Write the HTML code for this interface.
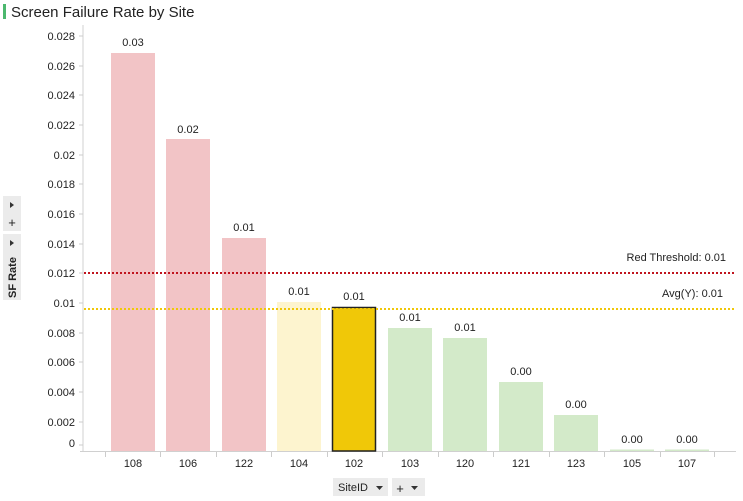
<!DOCTYPE html>
<html><head><style>
body{margin:0;background:#fff;}
svg{display:block;font-family:"Liberation Sans",Arial,sans-serif;}
</style></head><body>
<svg width="743" height="501" viewBox="0 0 743 501">
<rect x="3" y="4" width="3" height="15" fill="#4cb86e"/>
<text x="11" y="17" font-size="15" fill="#222">Screen Failure Rate by Site</text>
<!-- left panel -->
<rect x="3" y="196" width="18" height="35" fill="#ebebeb"/>
<path d="M10 202 L14 205 L10 208Z" fill="#333"/>
<text x="12" y="227" font-size="13" text-anchor="middle" fill="#222">+</text>
<rect x="3" y="234" width="18" height="66" fill="#ebebeb"/>
<path d="M10 240 L14 243 L10 246Z" fill="#333"/>
<text transform="translate(16,298) rotate(-90)" font-size="11" font-weight="bold" fill="#222">SF Rate</text>
<!-- axes -->
<line x1="83" y1="25" x2="83" y2="452" stroke="#d0d0d0"/>
<line x1="80" y1="451.5" x2="736" y2="451.5" stroke="#d0d0d0"/>
<g font-size="11" fill="#222" text-anchor="end">
<text x="75" y="40">0.028</text><line x1="79" y1="36" x2="83" y2="36" stroke="#ccc"/>
<text x="75" y="70">0.026</text><line x1="79" y1="66" x2="83" y2="66" stroke="#ccc"/>
<text x="75" y="99">0.024</text><line x1="79" y1="95" x2="83" y2="95" stroke="#ccc"/>
<text x="75" y="129">0.022</text><line x1="79" y1="125" x2="83" y2="125" stroke="#ccc"/>
<text x="75" y="159">0.02</text><line x1="79" y1="155" x2="83" y2="155" stroke="#ccc"/>
<text x="75" y="188">0.018</text><line x1="79" y1="184" x2="83" y2="184" stroke="#ccc"/>
<text x="75" y="218">0.016</text><line x1="79" y1="214" x2="83" y2="214" stroke="#ccc"/>
<text x="75" y="248">0.014</text><line x1="79" y1="244" x2="83" y2="244" stroke="#ccc"/>
<text x="75" y="277">0.012</text><line x1="79" y1="273" x2="83" y2="273" stroke="#ccc"/>
<text x="75" y="307">0.01</text><line x1="79" y1="303" x2="83" y2="303" stroke="#ccc"/>
<text x="75" y="337">0.008</text><line x1="79" y1="333" x2="83" y2="333" stroke="#ccc"/>
<text x="75" y="366">0.006</text><line x1="79" y1="362" x2="83" y2="362" stroke="#ccc"/>
<text x="75" y="396">0.004</text><line x1="79" y1="392" x2="83" y2="392" stroke="#ccc"/>
<text x="75" y="426">0.002</text><line x1="79" y1="422" x2="83" y2="422" stroke="#ccc"/>
<text x="75" y="447">0</text><line x1="79" y1="445" x2="83" y2="445" stroke="#ccc"/>
</g>
<!-- bars -->
<rect x="111" y="53" width="44" height="398" fill="#f2c4c6"/>
<rect x="166" y="139" width="44" height="312" fill="#f2c4c6"/>
<rect x="222" y="238" width="44" height="213" fill="#f2c4c6"/>
<rect x="277" y="302" width="44" height="149" fill="#fdf4cf"/>
<rect x="332.5" y="307.5" width="43" height="143.5" fill="#f0c808" stroke="#222" stroke-width="1.5"/>
<rect x="388" y="328" width="44" height="123" fill="#d3eac9"/>
<rect x="443" y="338" width="44" height="113" fill="#d3eac9"/>
<rect x="499" y="382" width="44" height="69" fill="#d3eac9"/>
<rect x="554" y="415" width="44" height="36" fill="#d3eac9"/>
<rect x="610" y="449.5" width="44" height="1.5" fill="#d3eac9"/>
<rect x="665" y="449.5" width="44" height="1.5" fill="#d3eac9"/>
<!-- lines -->
<line x1="84" y1="273" x2="735" y2="273" stroke="#c0141e" stroke-width="2" stroke-dasharray="2,2"/>
<line x1="84" y1="309" x2="735" y2="309" stroke="#f0c808" stroke-width="2" stroke-dasharray="2,2"/>
<g font-size="11" fill="#222" text-anchor="end">
<text x="726" y="261">Red Threshold: 0.01</text>
<text x="723" y="297">Avg(Y): 0.01</text>
</g>
<!-- value labels -->
<g font-size="11" fill="#222" text-anchor="middle">
<text x="133" y="46">0.03</text>
<text x="188" y="133">0.02</text>
<text x="244" y="231">0.01</text>
<text x="299" y="295">0.01</text>
<text x="354" y="300">0.01</text>
<text x="410" y="321">0.01</text>
<text x="465" y="331">0.01</text>
<text x="521" y="375">0.00</text>
<text x="576" y="408">0.00</text>
<text x="632" y="443">0.00</text>
<text x="687" y="443">0.00</text>
</g>
<!-- x ticks -->
<g stroke="#ccc">
<line x1="105.5" y1="452" x2="105.5" y2="457"/><line x1="160.5" y1="452" x2="160.5" y2="457"/>
<line x1="216.5" y1="452" x2="216.5" y2="457"/><line x1="271.5" y1="452" x2="271.5" y2="457"/>
<line x1="327.5" y1="452" x2="327.5" y2="457"/><line x1="382.5" y1="452" x2="382.5" y2="457"/>
<line x1="438.5" y1="452" x2="438.5" y2="457"/><line x1="493.5" y1="452" x2="493.5" y2="457"/>
<line x1="549.5" y1="452" x2="549.5" y2="457"/><line x1="604.5" y1="452" x2="604.5" y2="457"/>
<line x1="660.5" y1="452" x2="660.5" y2="457"/><line x1="714.5" y1="452" x2="714.5" y2="457"/>
</g>
<g font-size="11" fill="#222" text-anchor="middle">
<text x="133" y="467">108</text><text x="188" y="467">106</text><text x="244" y="467">122</text>
<text x="299" y="467">104</text><text x="354" y="467">102</text><text x="410" y="467">103</text>
<text x="465" y="467">120</text><text x="521" y="467">121</text><text x="576" y="467">123</text>
<text x="632" y="467">105</text><text x="687" y="467">107</text>
</g>
<!-- bottom buttons -->
<rect x="333" y="478" width="55" height="18" fill="#ebebeb"/>
<text x="338" y="491" font-size="11" fill="#222">SiteID</text>
<path d="M376 486 L383 486 L379.5 490Z" fill="#333"/>
<rect x="392" y="478" width="33" height="18" fill="#ebebeb"/>
<text x="400" y="493" font-size="13" text-anchor="middle" fill="#222">+</text>
<path d="M411 486 L418 486 L414.5 490Z" fill="#333"/>
</svg>
</body></html>
